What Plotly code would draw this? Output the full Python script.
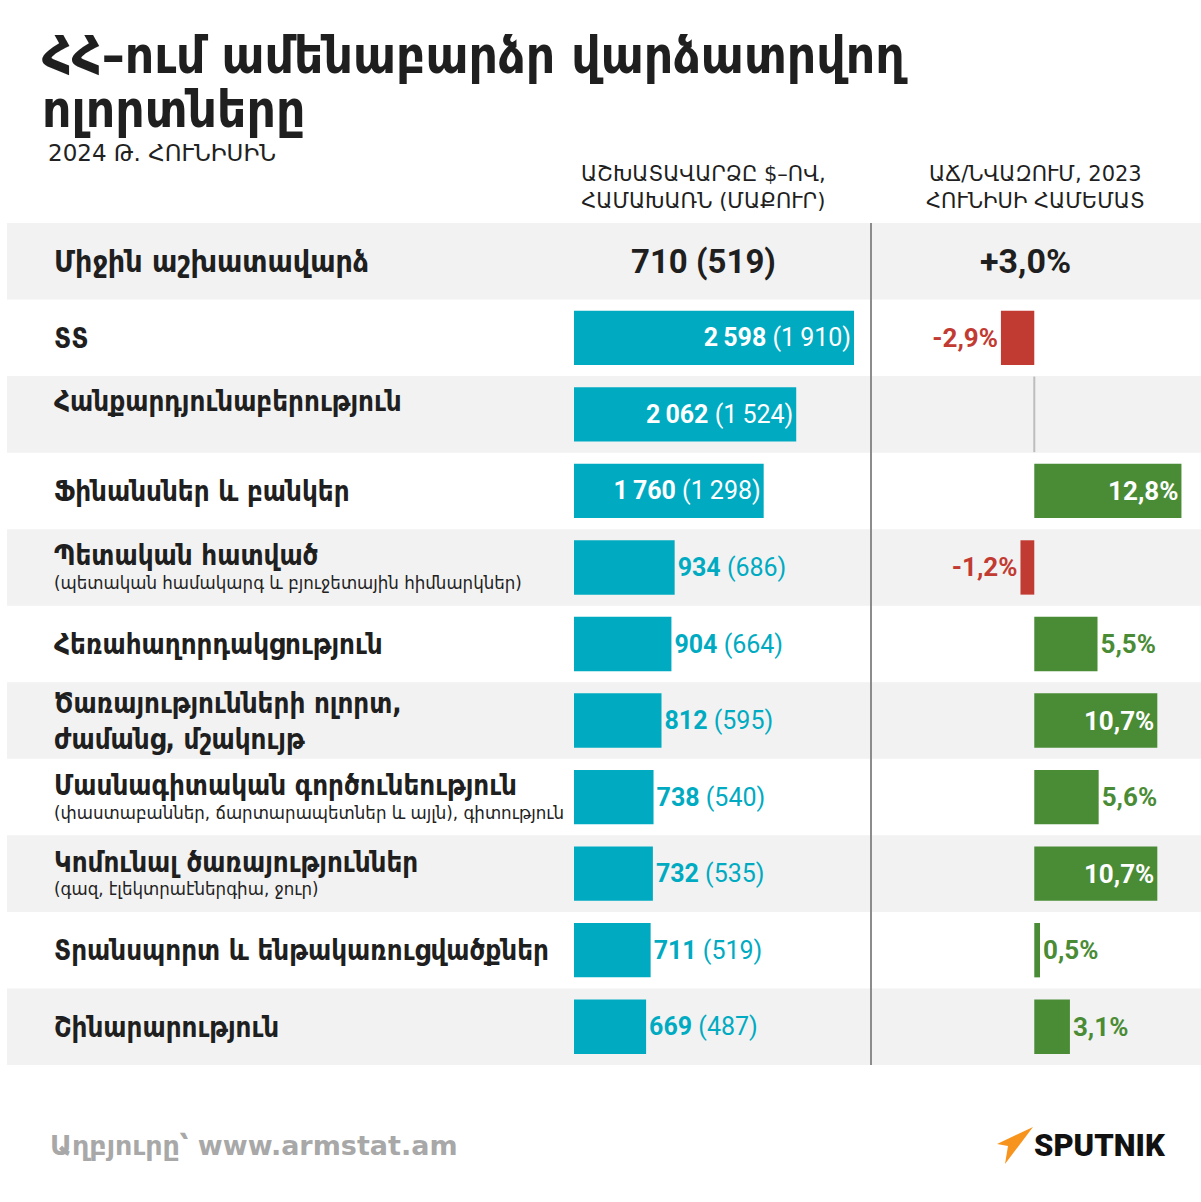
import plotly.graph_objects as go

W, H = 1201, 1202

TEAL   = "#00abc2"
GREEN  = "#4a8c35"
RED    = "#c23b32"
DARK   = "#1f1f1f"
BAND   = "#f2f2f2"
DIVIDE = "#8c8c8c"
ARM    = "DejaVu Sans Condensed, DejaVu Sans, sans-serif"
ARM_W  = "DejaVu Sans, sans-serif"
NUM    = "Roboto, Noto Sans, sans-serif"

# ---- data ----
TITLE_1 = "ՀՀ–ում ամենաբարձր վարձատրվող"
TITLE_2 = "ոլորտները"
SUBTITLE = "2024 Թ. ՀՈՒՆԻՍԻՆ"
HEAD_WAGE = "ԱՇԽԱՏԱՎԱՐՁԸ $–ՈՎ,<br>ՀԱՄԱԽԱՌՆ (ՄԱՔՈՒՐ)"
HEAD_CHANGE = "ԱՃ/ՆՎԱԶՈՒՄ, 2023<br>ՀՈՒՆԻՍԻ ՀԱՄԵՄԱՏ"
SOURCE = "Աղբյուրը՝ www.armstat.am"

AVG_LABEL = "Միջին աշխատավարձ"
AVG_USD = 710
AVG_AMD = 519
AVG_CHANGE = 3.0

SECTORS = [
    "ՏՏ",
    "Հանքարդյունաբերություն",
    "Ֆինանսներ և բանկեր",
    "Պետական հատված",
    "Հեռահաղորդակցություն",
    "Ծառայությունների ոլորտ,<br>ժամանց, մշակույթ",
    "Մասնագիտական գործունեություն",
    "Կոմունալ ծառայություններ",
    "Տրանսպորտ և ենթակառուցվածքներ",
    "Շինարարություն",
]
NOTES = [
    "", "", "",
    "(պետական համակարգ և բյուջետային հիմնարկներ)",
    "", "",
    "(փաստաբաններ, ճարտարապետներ և այլն), գիտություն",
    "(գազ, էլեկտրաէներգիա, ջուր)",
    "", "",
]
WAGE_USD = [2598, 2062, 1760, 934, 904, 812, 738, 732, 711, 669]
WAGE_AMD = [1910, 1524, 1298, 686, 664, 595, 540, 535, 519, 487]
CHANGE = [-2.9, None, 12.8, -1.2, 5.5, 10.7, 5.6, 10.7, 0.5, 3.1]


def fmt(v):
    return f"{v:,}".replace(",", "\u2009")


def pct(v, sign=False):
    s = f"{v:+.1f}" if sign else f"{v:.1f}"
    return s.replace(".", ",") + "%"


def px_x(p):
    return p / W


def px_y(p):
    return 1 - p / H


rows = list(range(1, len(SECTORS) + 1))

fig = go.Figure()

# wage bars
wage_pos = ["inside" if v > 1500 else "outside" for v in WAGE_USD]
fig.add_trace(go.Bar(
    x=WAGE_USD, y=rows, orientation="h", width=0.71,
    marker_color=TEAL, marker_line_width=0,
    text=[f"<b>{fmt(u)}</b> ({fmt(a)})" for u, a in zip(WAGE_USD, WAGE_AMD)],
    textposition=wage_pos, insidetextanchor="end",
    textfont=dict(family=NUM, size=25,
                  color=["white" if p == "inside" else TEAL for p in wage_pos]),
    constraintext="none", cliponaxis=False,
    xaxis="x", yaxis="y", hoverinfo="skip",
))

# change bars
chg_vals = [c if c is not None else 0 for c in CHANGE]
chg_pos = ["inside" if c >= 10 else "outside" for c in chg_vals]
chg_col = [RED if c < 0 else GREEN for c in chg_vals]
fig.add_trace(go.Bar(
    x=chg_vals, y=rows, orientation="h", width=0.71,
    marker_color=chg_col, marker_line_width=0,
    text=[pct(c) if c is not None else "" for c in CHANGE],
    textposition=chg_pos, insidetextanchor="end",
    textfont=dict(family=NUM, size=26, weight="bold",
                  color=["white" if p == "inside" else col for p, col in zip(chg_pos, chg_col)]),
    constraintext="none", cliponaxis=False,
    xaxis="x2", yaxis="y", hoverinfo="skip",
))

# no-data marker at zero
missing = [r for r, c in zip(rows, CHANGE) if c is None]
fig.add_trace(go.Scatter(
    x=[0] * len(missing), y=missing, mode="markers",
    marker=dict(symbol="line-ns", size=54, line=dict(color="#bdbdbd", width=2)),
    xaxis="x2", yaxis="y", hoverinfo="skip",
))

shapes = []
# row bands
for i in range(len(SECTORS) + 1):
    if i % 2 == 0:
        shapes.append(dict(type="rect", xref="paper", yref="y",
                           x0=px_x(7), x1=1, y0=i - 0.5, y1=i + 0.5,
                           fillcolor=BAND, line_width=0, layer="below"))
# divider
shapes.append(dict(type="line", xref="paper", yref="y",
                   x0=px_x(871), x1=px_x(871), y0=-0.5, y1=len(SECTORS) + 0.5,
                   line=dict(color=DIVIDE, width=2), layer="above"))
# sputnik mark
shapes.append(dict(type="path", xref="paper", yref="paper",
                   path=(f"M {px_x(1033)} {px_y(1127)} L {px_x(997)} {px_y(1144)} "
                         f"L {px_x(1008)} {px_y(1146)} L {px_x(1005)} {px_y(1164)} Z"),
                   fillcolor="#f7941d", line_width=0))

ann = []


def text(x, y, s, size, color=DARK, family=ARM, weight="normal", xanchor="left",
         xref="paper", yref="paper", yshift=0, align="left"):
    ann.append(dict(x=x, y=y, xref=xref, yref=yref, text=s, showarrow=False,
                    xanchor=xanchor, yanchor="middle", yshift=yshift, align=align,
                    font=dict(family=family, size=size, color=color, weight=weight)))


text(px_x(40), px_y(56), TITLE_1, 51, weight="bold")
text(px_x(40), px_y(109), TITLE_2, 51, weight="bold")
text(px_x(46), px_y(153), SUBTITLE, 23, family=ARM_W, color="#222222")
text(px_x(703), px_y(188), HEAD_WAGE, 21, family=ARM_W, xanchor="center", align="center")
text(px_x(1035), px_y(188), HEAD_CHANGE, 21, family=ARM_W, xanchor="center", align="center")

# average row
text(px_x(52), 0, AVG_LABEL, 30, weight="bold", yref="y")
text(px_x(703), 0, f"{AVG_USD} ({AVG_AMD})", 33, family=NUM, weight="bold",
     xanchor="center", yref="y")
text(px_x(1025), 0, pct(AVG_CHANGE, sign=True), 34, family=NUM, weight="bold",
     xanchor="center", yref="y")

LIFT = {2: 13}
for r, name, note in zip(rows, SECTORS, NOTES):
    shift = 12 if note else LIFT.get(r, 0)
    text(px_x(52), r, name, 27.5, weight="bold", yref="y", yshift=shift)
    if note:
        text(px_x(52), r, note, 18.5, color="#222222", yref="y", yshift=-15)

text(px_x(48), px_y(1145), SOURCE, 27, family=ARM_W, color="#a8a8a8", weight="bold")
text(px_x(1032), px_y(1145), "SPUTNIK", 31, family=NUM, weight=900, color="#111111")

y_dom = [px_y(1065), px_y(223)]
fig.update_layout(
    width=W, height=H,
    margin=dict(l=0, r=0, t=0, b=0),
    paper_bgcolor="white", plot_bgcolor="rgba(0,0,0,0)",
    showlegend=False, barmode="overlay",
    xaxis=dict(domain=[px_x(574), px_x(871)], range=[0, 2598 * 297 / 280], visible=False),
    xaxis2=dict(domain=[px_x(871), 1], range=[-14.2, 14.5], visible=False, anchor="y"),
    yaxis=dict(domain=y_dom, range=[len(SECTORS) + 0.5, -0.5], visible=False),
    shapes=shapes, annotations=ann,
)

fig.write_html("out.html", config={"displayModeBar": False},
               post_script="document.body.style.margin='0';")
